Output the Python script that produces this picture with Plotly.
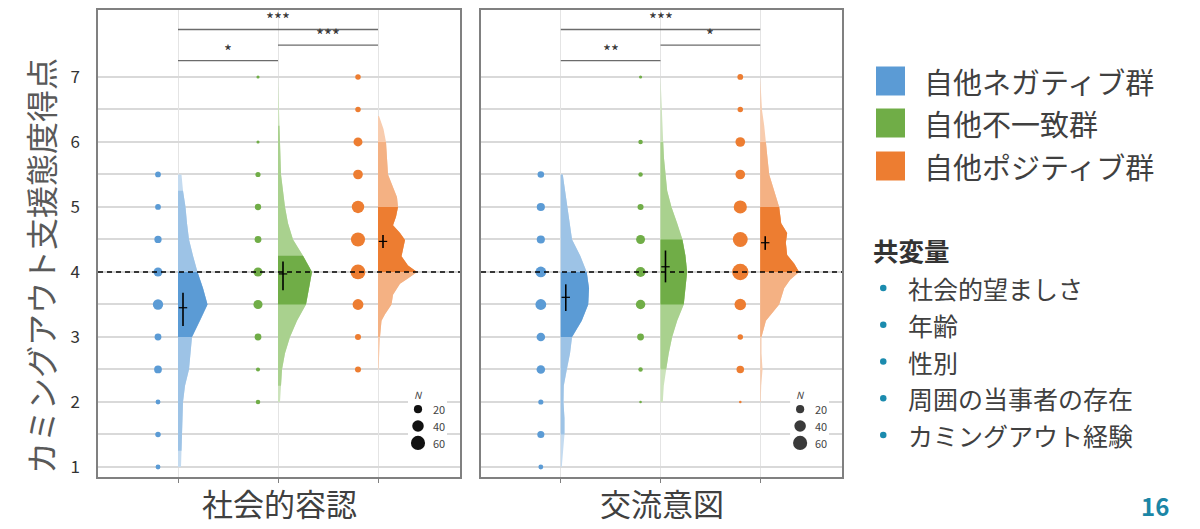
import plotly.graph_objects as go

FONT = "Noto Sans CJK JP"

# ---------------- data ----------------
groups = ["自他ネガティブ群", "自他不一致群", "自他ポジティブ群"]
outcomes = ["社会的容認", "交流意図"]
y_title = "カミングアウト支援態度得点"
score_levels = [1.0, 1.5, 2.0, 2.5, 3.0, 3.5, 4.0, 4.5, 5.0, 5.5, 6.0, 6.5, 7.0]
y_ticks = [1, 2, 3, 4, 5, 6, 7]
y_minor = [1.5, 2.5, 3.5, 4.5, 5.5, 6.5]
reference_score = 4
size_legend_n = [20, 40, 60]

# number of respondents at each score level (dots)
acc_neg_n = [7, 9, 7, 18, 14, 32, 24, 16, 10, 10, 0, 0, 0]
acc_inc_n = [0, 0, 6, 5, 14, 25, 25, 14, 12, 8, 3, 0, 3]
acc_pos_n = [0, 0, 0, 11, 11, 35, 65, 60, 46, 28, 24, 9, 9]
con_neg_n = [7, 15, 8, 22, 22, 35, 35, 20, 20, 13, 0, 0, 0]
con_inc_n = [0, 0, 2, 6, 14, 27, 29, 24, 11, 6, 6, 0, 3]
con_pos_n = [0, 0, 2, 17, 9, 40, 80, 66, 52, 28, 28, 9, 10]

# half-violin density outlines (score, half-width)
acc_neg_dy = [1.0, 1.25, 1.5, 1.75, 2.0, 2.25, 2.5, 2.75, 3.0, 3.25, 3.5, 3.75, 4.0, 4.25, 4.5, 4.75, 5.0, 5.25, 5.5]
acc_neg_dw = [0.03, 0.035, 0.04, 0.045, 0.05, 0.07, 0.11, 0.125, 0.14, 0.22, 0.295, 0.25, 0.195, 0.15, 0.11, 0.09, 0.075, 0.05, 0.035]
acc_inc_dy = [2.0, 2.25, 2.5, 2.75, 3.0, 3.25, 3.5, 3.75, 4.0, 4.25, 4.5, 4.75, 5.0, 5.25, 5.5, 5.75, 6.0, 6.25, 6.5, 6.75, 7.0]
acc_inc_dw = [0.02, 0.03, 0.04, 0.07, 0.12, 0.19, 0.28, 0.31, 0.34, 0.25, 0.15, 0.10, 0.07, 0.05, 0.03, 0.025, 0.02, 0.015, 0.01, 0.008, 0.005]
acc_pos_dy = [2.5, 2.75, 3.0, 3.25, 3.35, 3.5, 3.65, 3.82, 3.9, 4.0, 4.1, 4.24, 4.35, 4.49, 4.6, 4.72, 4.85, 5.0, 5.15, 5.3, 5.5, 5.75, 6.0, 6.2, 6.4]
acc_pos_dw = [0.005, 0.012, 0.02, 0.035, 0.07, 0.135, 0.15, 0.22, 0.30, 0.39, 0.30, 0.235, 0.25, 0.27, 0.22, 0.15, 0.18, 0.20, 0.19, 0.15, 0.10, 0.09, 0.08, 0.055, 0.01]
con_neg_dy = [1.0, 1.25, 1.5, 1.75, 2.0, 2.25, 2.5, 2.75, 3.0, 3.25, 3.5, 3.75, 4.0, 4.25, 4.5, 4.75, 5.0, 5.25, 5.5]
con_neg_dw = [0.01, 0.027, 0.037, 0.037, 0.027, 0.03, 0.06, 0.093, 0.113, 0.21, 0.275, 0.283, 0.26, 0.195, 0.113, 0.09, 0.065, 0.045, 0.02]
con_inc_dy = [2.0, 2.25, 2.5, 2.75, 3.0, 3.25, 3.5, 3.75, 4.0, 4.25, 4.5, 4.75, 5.0, 5.25, 5.5, 5.75, 6.0, 6.25, 6.5, 6.75, 7.0]
con_inc_dw = [0.023, 0.033, 0.057, 0.083, 0.117, 0.167, 0.233, 0.25, 0.267, 0.25, 0.22, 0.167, 0.11, 0.067, 0.05, 0.035, 0.027, 0.022, 0.017, 0.012, 0.007]
con_pos_dy = [2.0, 2.25, 2.5, 2.75, 3.0, 3.25, 3.5, 3.75, 3.88, 4.0, 4.13, 4.26, 4.45, 4.6, 4.75, 5.0, 5.25, 5.5, 5.75, 6.0, 6.25, 6.5, 6.75, 7.0]
con_pos_dw = [0.005, 0.01, 0.023, 0.013, 0.013, 0.057, 0.19, 0.24, 0.30, 0.39, 0.34, 0.27, 0.257, 0.27, 0.21, 0.19, 0.14, 0.09, 0.073, 0.057, 0.04, 0.017, 0.01, 0.005]

# interval bounds: (inner lo, inner hi, outer lo, outer hi)
acc_neg_iv = (3.0, 4.0, 1.25, 5.25)
acc_inc_iv = (3.5, 4.25, 2.25, 6.25)
acc_pos_iv = (4.0, 5.0, 3.0, 6.0)
con_neg_iv = (3.0, 4.0, 1.5, 5.5)
con_inc_iv = (3.5, 4.5, 2.5, 6.0)
con_pos_iv = (4.0, 5.0, 3.0, 6.0)

# adjusted means with confidence intervals
acc_mean = [3.45, 3.97, 4.47]
acc_lo = [3.17, 3.72, 4.37]
acc_hi = [3.68, 4.16, 4.57]
con_mean = [3.61, 4.08, 4.45]
con_lo = [3.40, 3.84, 4.34]
con_hi = [3.81, 4.33, 4.55]

# pairwise comparisons
sig_pairs = [(1, 2), (2, 3), (1, 3)]
acc_sig = ["*", "***", "***"]
con_sig = ["**", "*", "***"]

covariate_title = "共変量"
covariates = ["社会的望ましさ", "年齢", "性別", "周囲の当事者の存在", "カミングアウト経験"]
page_number = "16"

# ---------------- style ----------------
dark = ["#5B9BD5", "#70AD47", "#ED7D31"]
mid = ["#9DC3E6", "#A9D18E", "#F4B183"]
light = ["#C4DBF0", "#CCE3BC", "#F8CCAE"]
TEXT = "#404040"
TEAL = "#1B8BAE"
W, H = 1200, 529

panels = [
    dict(title=outcomes[0], xa="x", ya="y",
         n=[acc_neg_n, acc_inc_n, acc_pos_n],
         dy=[acc_neg_dy, acc_inc_dy, acc_pos_dy], dw=[acc_neg_dw, acc_inc_dw, acc_pos_dw],
         iv=[acc_neg_iv, acc_inc_iv, acc_pos_iv],
         mean=acc_mean, lo=acc_lo, hi=acc_hi, sig=acc_sig,
         dom=[98 / W, 460 / W], legdot="#111111"),
    dict(title=outcomes[1], xa="x2", ya="y2",
         n=[con_neg_n, con_inc_n, con_pos_n],
         dy=[con_neg_dy, con_inc_dy, con_pos_dy], dw=[con_neg_dw, con_inc_dw, con_pos_dw],
         iv=[con_neg_iv, con_inc_iv, con_pos_iv],
         mean=con_mean, lo=con_lo, hi=con_hi, sig=con_sig,
         dom=[481 / W, 842 / W], legdot="#3a3a3a"),
]

SIZEREF = 0.6


def region(cat, ys, ws, lo, hi):
    pts = [(y, w) for y, w in zip(ys, ws) if lo - 1e-9 <= y <= hi + 1e-9]
    xs = [cat + w for _, w in pts] + [cat, cat]
    yy = [y for y, _ in pts] + [pts[-1][0], pts[0][0]]
    return xs, yy


def py(px):
    return 1 - px / H


def pxx(px):
    return px / W


fig = go.Figure()
shapes = []
annotations = []

for p in panels:
    xa, ya = p["xa"], p["ya"]
    shapes.append(dict(type="rect", xref=xa, yref=ya, x0=3.30, x1=3.69, y0=1.23, y1=2.18,
                       fillcolor="white", line=dict(width=0), layer="between"))
    for g in range(3):
        cat = g + 1
        ys, ws = p["dy"][g], p["dw"][g]
        ilo, ihi, olo, ohi = p["iv"][g]
        for (lo, hi, col) in [(ys[0], ys[-1], light[g]), (olo, ohi, mid[g]), (ilo, ihi, dark[g])]:
            xs, yy = region(cat, ys, ws, lo, hi)
            fig.add_trace(go.Scatter(x=xs, y=yy, xaxis=xa, yaxis=ya, mode="lines",
                                     fill="toself", fillcolor=col, line=dict(width=0),
                                     hoverinfo="skip", showlegend=False))
        lv = [s for s, c in zip(score_levels, p["n"][g]) if c > 0]
        nn = [c for c in p["n"][g] if c > 0]
        fig.add_trace(go.Scatter(x=[cat - 0.2] * len(lv), y=lv, xaxis=xa, yaxis=ya, mode="markers",
                                 marker=dict(size=nn, sizemode="area", sizeref=SIZEREF, opacity=1,
                                             color=dark[g], line=dict(width=0)),
                                 showlegend=False, hoverinfo="skip"))
        m = p["mean"][g]
        fig.add_trace(go.Scatter(x=[cat + 0.05], y=[m], xaxis=xa, yaxis=ya, mode="markers",
                                 marker=dict(symbol="line-ew", size=6, color="black",
                                             line=dict(width=1.2, color="black")),
                                 error_y=dict(type="data", symmetric=False,
                                              array=[p["hi"][g] - m], arrayminus=[m - p["lo"][g]],
                                              width=0, thickness=1.6, color="black"),
                                 showlegend=False, hoverinfo="skip"))
    for i, ((a, b), lab) in enumerate(zip(sig_pairs, p["sig"])):
        yb = 7.25 + 0.24 * i
        fig.add_trace(go.Scatter(x=[a, b], y=[yb, yb], xaxis=xa, yaxis=ya, mode="lines",
                                 line=dict(color="#6b6b6b", width=1.3),
                                 showlegend=False, hoverinfo="skip"))
        annotations.append(dict(x=(a + b) / 2, y=yb, xref=xa, yref=ya, text=lab,
                                showarrow=False, xanchor="center", yanchor="bottom", yshift=-4,
                                font=dict(family=FONT, size=17, color="#333333")))
    leg_y = [1.89, 1.63, 1.37]
    fig.add_trace(go.Scatter(x=[3.40] * 3, y=leg_y, xaxis=xa, yaxis=ya, mode="markers",
                             marker=dict(size=size_legend_n, sizemode="area", sizeref=SIZEREF,
                                         opacity=1, color=p["legdot"], line=dict(width=0)),
                             showlegend=False, hoverinfo="skip"))
    for yv, nv in zip(leg_y, size_legend_n):
        annotations.append(dict(x=3.53, y=yv, xref=xa, yref=ya, text=str(nv), showarrow=False,
                                xanchor="left", yanchor="middle",
                                font=dict(family=FONT, size=11, color="#444444")))
    annotations.append(dict(x=3.40, y=2.12, xref=xa, yref=ya, text="<i>N</i>", showarrow=False,
                            xanchor="center", yanchor="middle",
                            font=dict(family=FONT, size=10, color="#444444")))
    shapes.append(dict(type="line", xref=xa + " domain", yref=ya, x0=0, x1=1,
                       y0=reference_score, y1=reference_score,
                       line=dict(color="black", width=1.6, dash="5px,4px"), layer="above"))
    annotations.append(dict(x=0.5, y=py(502), xref=xa + " domain", yref="paper",
                            text=p["title"], showarrow=False, xanchor="center", yanchor="middle",
                            font=dict(family=FONT, size=31, color=TEXT)))

axis_common_x = dict(range=[0.2, 3.82], tickvals=[1, 2, 3], ticktext=["", "", ""],
                     ticks="outside", ticklen=4, tickcolor="#808080", tickwidth=1,
                     showgrid=True, gridcolor="#e4e4e4", gridwidth=1,
                     showline=True, mirror=True, linecolor="#808080", linewidth=1.5,
                     zeroline=False, fixedrange=True)
axis_common_y = dict(range=[0.846, 8.03], tickvals=y_ticks, ticks="",
                     showgrid=True, gridcolor="#d9d9d9", gridwidth=1.5,
                     minor=dict(tickvals=y_minor, showgrid=True, gridcolor="#d9d9d9", gridwidth=1.5, ticks=""),
                     showline=True, mirror=True, linecolor="#808080", linewidth=1.5,
                     zeroline=False, fixedrange=True, domain=[py(477), py(10)])

fig.update_layout(
    width=W, height=H, paper_bgcolor="white", plot_bgcolor="white",
    margin=dict(l=0, r=0, t=0, b=0), showlegend=False,
    xaxis=dict(domain=panels[0]["dom"], anchor="y", **axis_common_x),
    xaxis2=dict(domain=panels[1]["dom"], anchor="y2", **axis_common_x),
    yaxis=dict(anchor="x", showticklabels=True, ticklabelstandoff=13,
               tickfont=dict(family=FONT, size=17, color="#333333"), **axis_common_y),
    yaxis2=dict(anchor="x2", showticklabels=False, **axis_common_y),
)

annotations.append(dict(x=pxx(40), y=py(266), xref="paper", yref="paper", text=y_title,
                        textangle=-90, showarrow=False, xanchor="center", yanchor="middle",
                        font=dict(family=FONT, size=32, color="#595959")))

# group legend
leg_centers = [81, 123, 166]
for g, (name, yc) in enumerate(zip(groups, leg_centers)):
    shapes.append(dict(type="rect", xref="paper", yref="paper",
                       x0=pxx(876), x1=pxx(905), y0=py(yc + 14.5), y1=py(yc - 14.5),
                       fillcolor=dark[g], line=dict(width=0)))
    annotations.append(dict(x=pxx(922), y=py(yc), xref="paper", yref="paper", text=name,
                            xanchor="left", yanchor="middle", showarrow=False,
                            font=dict(family=FONT, size=29, color=TEXT)))

# covariates
annotations.append(dict(x=pxx(871), y=py(249), xref="paper", yref="paper",
                        text="<b>" + covariate_title + "</b>", xanchor="left", yanchor="middle",
                        showarrow=False, font=dict(family=FONT, size=25.5, color="#333333")))
cov_y = [288, 324.75, 361.5, 398.25, 435]
for txt, yc in zip(covariates, cov_y):
    shapes.append(dict(type="circle", xref="paper", yref="paper",
                       x0=pxx(880), x1=pxx(886.5), y0=py(yc + 3.25), y1=py(yc - 3.25),
                       fillcolor=TEAL, line=dict(width=0)))
    annotations.append(dict(x=pxx(906), y=py(yc), xref="paper", yref="paper", text=txt,
                            xanchor="left", yanchor="middle", showarrow=False,
                            font=dict(family=FONT, size=25, color=TEXT)))

annotations.append(dict(x=pxx(1155), y=py(505), xref="paper", yref="paper",
                        text="<b>" + page_number + "</b>", showarrow=False,
                        xanchor="center", yanchor="middle",
                        font=dict(family=FONT, size=24, color="#1B86A6")))

fig.update_layout(shapes=shapes, annotations=annotations)
fig.write_html("out.html", config={"displayModeBar": False},
               post_script="document.body.style.margin='0';")
